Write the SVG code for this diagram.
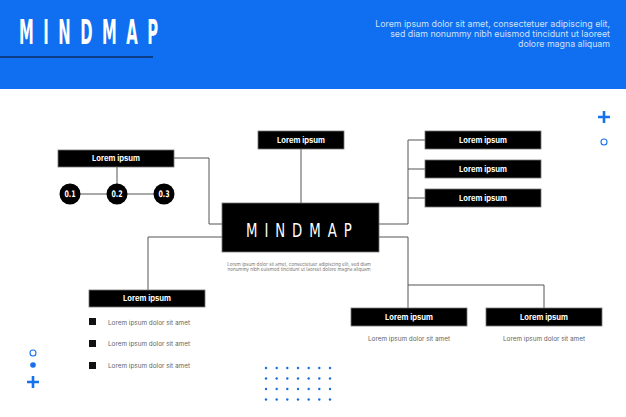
<svg xmlns="http://www.w3.org/2000/svg" width="626" height="417" viewBox="0 0 626 417">
<defs>
<style>
.box{fill:#000;stroke:#777;stroke-width:0.8}
.lbl{font-family:Inter,"Noto Sans",sans-serif;font-weight:700;font-size:7.6px;fill:#fff;text-anchor:middle}
.line{fill:none;stroke:#555;stroke-width:1}
.small{font-family:Inter,"Noto Sans",sans-serif;font-size:6.4px;fill:#666}
.tiny{font-family:Inter,"Noto Sans",sans-serif;font-size:4.6px;fill:#777;text-anchor:middle}
.circ{fill:#000}
.num{font-family:"DejaVu Sans",sans-serif;font-weight:700;font-size:9px;fill:#fff;text-anchor:middle}
.blue{fill:#0f6ff0}
.dot{fill:#1a6ed8}
</style>
</defs>
<rect width="626" height="417" fill="#fff"/>
<g id="header">
<rect x="0" y="0" width="626" height="89" class="blue"/>
<text transform="translate(19,44) scale(0.45,1)" x="0" y="0" font-family="'DejaVu Sans',sans-serif" font-weight="700" font-size="33" fill="#fff" textLength="309" lengthAdjust="spacing">MINDMAP</text>
<line x1="0" y1="57" x2="153" y2="57" stroke="#0d2d63" stroke-width="1.6"/>
<g font-family="Inter,'Noto Sans',sans-serif" font-size="8.8" fill="#cfe0f8" text-anchor="end">
<text x="610" y="27">Lorem ipsum dolor sit amet, consectetuer adipiscing elit,</text>
<text x="610" y="37">sed diam nonummy nibh euismod tincidunt ut laoreet</text>
<text x="610" y="47">dolore magna aliquam</text>
</g>
</g>
<g id="connectors">
<path class="line" d="M174,158 H209 V224 H222"/>
<path class="line" d="M117,167 V194 M70,194 H164"/>
<path class="line" d="M301,149 V203"/>
<path class="line" d="M222,237 H148 V290"/>
<path class="line" d="M379,224 H408 V140 H425 M408,169 H425 M408,198 H425"/>
<path class="line" d="M379,237 H408 V308 M408,285 H544 V308"/>
</g>
<g id="node-center">
<rect class="box" x="222" y="203" width="157" height="49"/>
<text transform="translate(246,237) scale(0.7,1)" x="0" y="0" font-family="'DejaVu Sans',sans-serif" font-size="19" fill="#fff" textLength="151" lengthAdjust="spacing">MINDMAP</text>
<text class="tiny" x="299" y="266">Lorem ipsum dolor sit amet, consectetuer adipiscing elit, sed diam</text>
<text class="tiny" x="299" y="271">nonummy nibh euismod tincidunt ut laoreet dolore magna aliquam</text>
</g>
<g id="node-top">
<rect class="box" x="258" y="131" width="86" height="18"/>
<text class="lbl" x="301" y="142.5">Lorem ipsum</text>
</g>
<g id="node-left">
<rect class="box" x="58" y="150" width="116" height="17"/>
<text class="lbl" x="116" y="161">Lorem ipsum</text>
</g>
<g id="node-01"><circle class="circ" cx="70" cy="194" r="10.5"/><text class="num" transform="translate(70,197) scale(0.7,1)">0.1</text></g>
<g id="node-02"><circle class="circ" cx="117" cy="194" r="10.5"/><text class="num" transform="translate(117,197) scale(0.7,1)">0.2</text></g>
<g id="node-03"><circle class="circ" cx="164" cy="194" r="10.5"/><text class="num" transform="translate(164,197) scale(0.7,1)">0.3</text></g>
<g id="node-r1"><rect class="box" x="425" y="131" width="116" height="18"/><text class="lbl" x="483" y="142.5">Lorem ipsum</text></g>
<g id="node-r2"><rect class="box" x="425" y="160" width="116" height="18"/><text class="lbl" x="483" y="171.5">Lorem ipsum</text></g>
<g id="node-r3"><rect class="box" x="425" y="189" width="116" height="18"/><text class="lbl" x="483" y="200.5">Lorem ipsum</text></g>
<g id="node-bl">
<rect class="box" x="89" y="290" width="116" height="17"/>
<text class="lbl" x="147" y="301">Lorem ipsum</text>
<rect x="89" y="318" width="7" height="7" fill="#111"/>
<rect x="89" y="340" width="7" height="7" fill="#111"/>
<rect x="89" y="362" width="7" height="7" fill="#111"/>
<text class="small" x="108" y="324.5">Lorem ipsum dolor sit amet</text>
<text class="small" x="108" y="346">Lorem ipsum dolor sit amet</text>
<text class="small" x="108" y="368">Lorem ipsum dolor sit amet</text>
</g>
<g id="node-br1">
<rect class="box" x="351" y="308" width="116" height="18"/>
<text class="lbl" x="409" y="319.5">Lorem ipsum</text>
<text class="small" x="409" y="341" text-anchor="middle">Lorem ipsum dolor sit amet</text>
</g>
<g id="node-br2">
<rect class="box" x="486" y="308" width="116" height="18"/>
<text class="lbl" x="544" y="319.5">Lorem ipsum</text>
<text class="small" x="544" y="341" text-anchor="middle">Lorem ipsum dolor sit amet</text>
</g>
<g id="decor">
<path d="M604,111 V123 M598,117 H610" stroke="#1571ee" stroke-width="2.6" fill="none"/>
<circle cx="604" cy="142" r="3" fill="none" stroke="#1571ee" stroke-width="1.1"/>
<circle cx="33" cy="353" r="3" fill="none" stroke="#1571ee" stroke-width="1.1"/>
<circle cx="33" cy="365" r="2.8" fill="#1571ee"/>
<path d="M33,376 V388 M27,382 H39" stroke="#1571ee" stroke-width="2.6" fill="none"/>
<g class="dot">
<circle cx="266" cy="368" r="1.2"/><circle cx="276.7" cy="368" r="1.2"/><circle cx="287.3" cy="368" r="1.2"/><circle cx="298" cy="368" r="1.2"/><circle cx="308.7" cy="368" r="1.2"/><circle cx="319.3" cy="368" r="1.2"/><circle cx="330" cy="368" r="1.2"/>
<circle cx="266" cy="378.5" r="1.2"/><circle cx="276.7" cy="378.5" r="1.2"/><circle cx="287.3" cy="378.5" r="1.2"/><circle cx="298" cy="378.5" r="1.2"/><circle cx="308.7" cy="378.5" r="1.2"/><circle cx="319.3" cy="378.5" r="1.2"/><circle cx="330" cy="378.5" r="1.2"/>
<circle cx="266" cy="389" r="1.2"/><circle cx="276.7" cy="389" r="1.2"/><circle cx="287.3" cy="389" r="1.2"/><circle cx="298" cy="389" r="1.2"/><circle cx="308.7" cy="389" r="1.2"/><circle cx="319.3" cy="389" r="1.2"/><circle cx="330" cy="389" r="1.2"/>
<circle cx="266" cy="399.5" r="1.2"/><circle cx="276.7" cy="399.5" r="1.2"/><circle cx="287.3" cy="399.5" r="1.2"/><circle cx="298" cy="399.5" r="1.2"/><circle cx="308.7" cy="399.5" r="1.2"/><circle cx="319.3" cy="399.5" r="1.2"/><circle cx="330" cy="399.5" r="1.2"/>
</g>
</g>
</svg>
